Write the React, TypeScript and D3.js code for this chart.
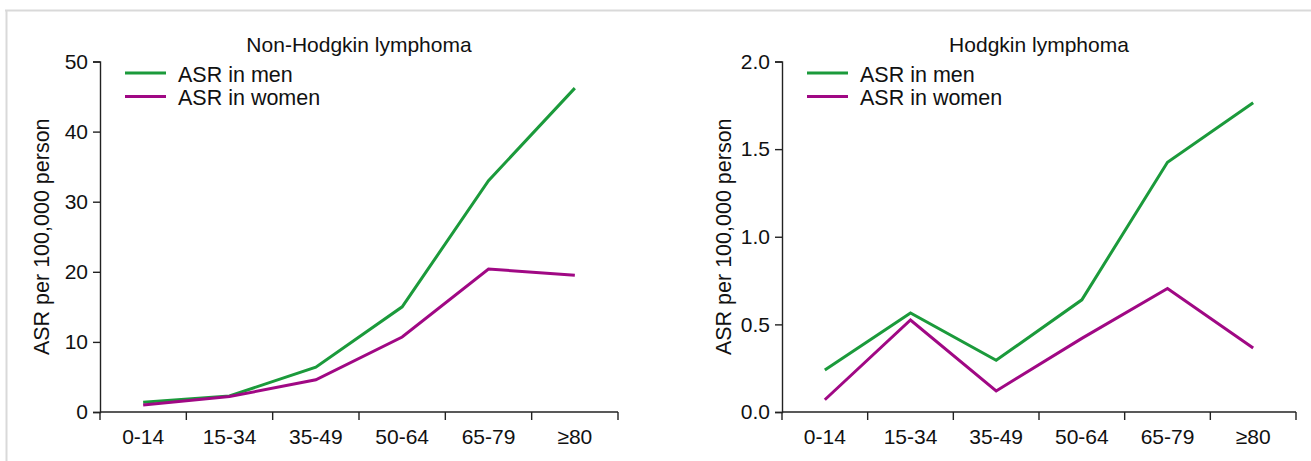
import * as d3 from "d3";
import { useRef, useEffect } from "react";

const ageGroups = ["0-14", "15-34", "35-49", "50-64", "65-79", "≥80"];

const nhlMen = [1.4, 2.3, 6.4, 15.0, 33.0, 46.2];
const nhlWomen = [1.0, 2.2, 4.6, 10.7, 20.4, 19.5];
const nhlTicks = [0, 10, 20, 30, 40, 50];

const hlMen = [0.24, 0.565, 0.295, 0.64, 1.425, 1.765];
const hlWomen = [0.07, 0.525, 0.12, 0.42, 0.705, 0.365];
const hlTicks = [0, 0.5, 1.0, 1.5, 2.0];

const seriesNames = ["ASR in men", "ASR in women"];
const seriesColors = ["#1b9a3b", "#a00884"];

const FONT = "'Liberation Sans', Arial, sans-serif";

const App = () => {
    const svgRef = useRef<SVGSVGElement>(null);

    useEffect(() => {
        const svg = d3.select(svgRef.current);
        svg.selectAll("*").remove();

        // light frame on top and left
        svg.append("line").attr("x1", 5).attr("x2", 1311).attr("y1", 10.5).attr("y2", 10.5)
            .attr("stroke", "#d9d9d9").attr("stroke-width", 2);
        svg.append("line").attr("x1", 6.5).attr("x2", 6.5).attr("y1", 10).attr("y2", 461)
            .attr("stroke", "#d9d9d9").attr("stroke-width", 2);

        const drawPanel = (left, right, title, men, women, ticks, maxY, fmt) => {
            const top = 61.5;
            const bottom = 412;
            const g = svg.append("g");

            const x = d3.scaleBand().domain(ageGroups).range([left, right]);
            const y = d3.scaleLinear().domain([0, maxY]).range([bottom, top]);

            // y axis
            const yAxis = d3.axisLeft(y).tickValues(ticks).tickSize(7).tickPadding(5).tickFormat(fmt);
            const ya = g.append("g").attr("transform", `translate(${left},0)`).call(yAxis);
            ya.select(".domain").attr("stroke", "#222").attr("stroke-width", 1.4);
            ya.selectAll(".tick line").attr("stroke", "#222").attr("stroke-width", 1.4);
            ya.selectAll(".tick text").attr("font-family", FONT).attr("font-size", 21).attr("fill", "#111");

            // x axis: ticks at band boundaries
            const xa = g.append("g").attr("transform", `translate(0,${bottom})`);
            xa.append("line").attr("x1", left).attr("x2", right)
                .attr("stroke", "#222").attr("stroke-width", 1.4);
            const bounds = ageGroups.map(a => x(a)).concat([right]);
            xa.selectAll(".xt").data(bounds).enter().append("line")
                .attr("x1", d => d).attr("x2", d => d).attr("y1", 0).attr("y2", 8)
                .attr("stroke", "#222").attr("stroke-width", 1.4);
            xa.selectAll(".xl").data(ageGroups).enter().append("text")
                .attr("x", d => x(d) + x.bandwidth() / 2).attr("y", 32)
                .attr("text-anchor", "middle").attr("font-family", FONT)
                .attr("font-size", 21).attr("fill", "#111").text(d => d);

            // y axis label
            g.append("text")
                .attr("transform", `translate(${left - 51},${(top + bottom) / 2}) rotate(-90)`)
                .attr("text-anchor", "middle").attr("font-family", FONT)
                .attr("font-size", 21.5).attr("fill", "#111")
                .text("ASR per 100,000 person");

            // title
            g.append("text").attr("x", (left + right) / 2).attr("y", 52)
                .attr("text-anchor", "middle").attr("font-family", FONT)
                .attr("font-size", 21).attr("fill", "#111").text(title);

            const line = d3.line<number>()
                .x((d, i) => x(ageGroups[i]) + x.bandwidth() / 2)
                .y(d => y(d));

            [men, women].forEach((vals, i) => {
                g.append("path").datum(vals)
                    .attr("fill", "none").attr("stroke", seriesColors[i])
                    .attr("stroke-width", 3).attr("d", line);

                // legend
                const ly = 73 + i * 23.5;
                g.append("line").attr("x1", left + 25).attr("x2", left + 66)
                    .attr("y1", ly).attr("y2", ly)
                    .attr("stroke", seriesColors[i]).attr("stroke-width", 3);
                g.append("text").attr("x", left + 78).attr("y", ly + 8.5)
                    .attr("font-family", FONT).attr("font-size", 21.5).attr("fill", "#111")
                    .text(seriesNames[i]);
            });
        };

        drawPanel(100, 618, "Non-Hodgkin lymphoma", nhlMen, nhlWomen, nhlTicks, 50, d3.format("d"));
        drawPanel(782, 1296, "Hodgkin lymphoma", hlMen, hlWomen, hlTicks, 2.0, d3.format(".1f"));
    }, []);

    return (
        <svg ref={svgRef} width={1311} height={461}
            style={{ position: "absolute", left: 0, top: 0, background: "#fff" }} />
    );
};

export default App;
